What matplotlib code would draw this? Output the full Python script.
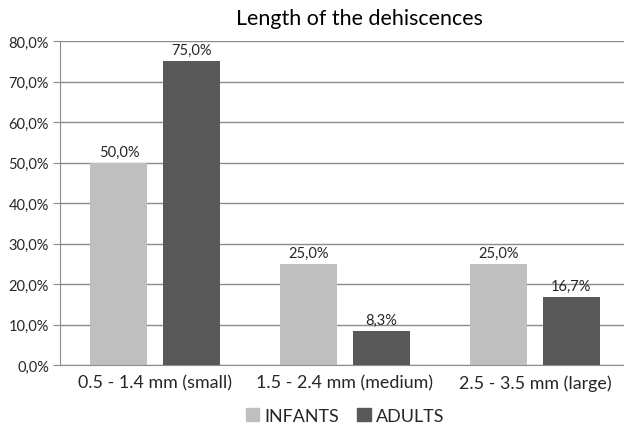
import numpy as np
import matplotlib.pyplot as plt
from matplotlib.patches import Patch

categorias = ["0.5 - 1.4 mm (small)", "1.5 - 2.4 mm (medium)", "2.5 - 3.5 mm (large)"]
infants = [50.0, 25.0, 25.0]
adults = [75.0, 8.3, 16.7]
series_names = ["INFANTS", "ADULTS"]

plt.rcParams['font.family'] = ['Lato', 'DejaVu Sans']

fig = plt.figure(figsize=(6.24, 4.27), dpi=100)
# eixo mais largo que a figura: no original o lado direito foi cortado
ax = fig.add_axes([60 / 624, 1 - 366 / 427, 570 / 624, 324 / 427])

x = np.arange(len(categorias))
largura = 0.3
desloc = 0.19
cor_inf = '#bfbfbf'
cor_adu = '#595959'

b1 = ax.bar(x - desloc, infants, largura, color=cor_inf, zorder=3)
b2 = ax.bar(x + desloc, adults, largura, color=cor_adu, zorder=3)

def fmt(v):
    return f"{v:.1f}%".replace('.', ',')

for barras, valores in [(b1, infants), (b2, adults)]:
    for b, v in zip(barras, valores):
        ax.text(b.get_x() + b.get_width() / 2, v + 1.0, fmt(v),
                ha='center', va='bottom', fontsize=10.5, color='#262626')

ax.set_xlim(-0.5, 2.5)
ax.set_ylim(0, 80)
ax.set_yticks(np.arange(0, 81, 10))
ax.set_yticklabels([fmt(v) for v in np.arange(0, 81, 10)], fontsize=10.5, color='#262626')
ax.set_xticks(x)
ax.set_xticklabels(categorias, fontsize=12.9, color='#262626')
ax.tick_params(axis='x', length=0, pad=7)
ax.tick_params(axis='y', length=5, color='#8c8c8c', direction='out', pad=3)

ax.grid(axis='y', color='#8c8c8c', linewidth=1.0, zorder=0)
for lado in ['top', 'right']:
    ax.spines[lado].set_visible(False)
ax.spines['left'].set_color('#8c8c8c')
ax.spines['bottom'].set_color('#8c8c8c')

fig.text(359 / 624, 1 - 19 / 427, "Length of the dehiscences", ha='center', va='center',
         fontsize=15.4, color='#000000')

handles = [Patch(color=cor_inf), Patch(color=cor_adu)]
fig.legend(handles, series_names, loc='center', bbox_to_anchor=(345 / 624, 1 - 417 / 427),
           ncol=2, frameon=False, fontsize=12.9, handlelength=0.75, handleheight=0.75,
           handletextpad=0.3, columnspacing=1.0, labelcolor='#262626')

fig.savefig('out.png', dpi=100)
